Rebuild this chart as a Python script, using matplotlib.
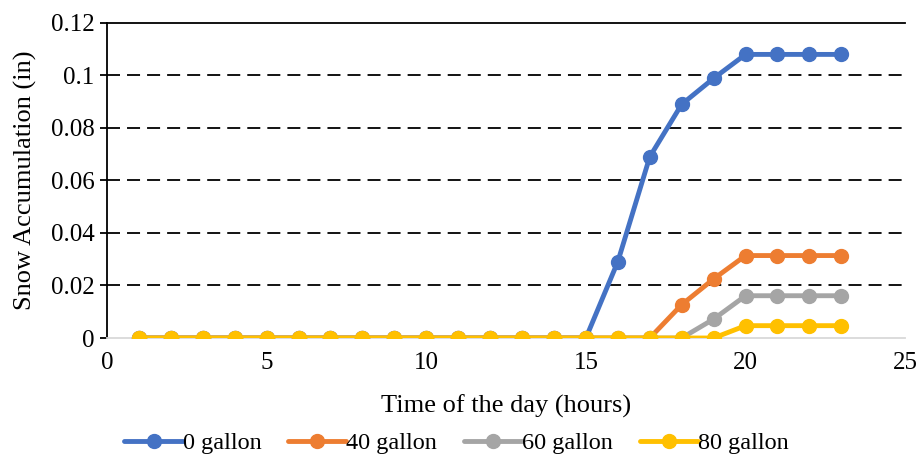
import matplotlib.pyplot as plt

plt.rcParams['font.family'] = ['Liberation Serif', 'DejaVu Serif']

# hourly snow accumulation (in) for each application rate
hours = list(range(1, 24))
snow_0 = [0] * 15 + [0.0291, 0.069, 0.089, 0.0989, 0.108, 0.108, 0.108, 0.108]
snow_40 = [0] * 17 + [0.0127, 0.0225, 0.0314, 0.0314, 0.0314, 0.0314]
snow_60 = [0] * 18 + [0.0072, 0.0161, 0.0161, 0.0161, 0.0161]
snow_80 = [0] * 19 + [0.0047, 0.0047, 0.0047, 0.0047]

labels = ['0 gallon', '40 gallon', '60 gallon', '80 gallon']
colors = ['#4472C4', '#ED7D31', '#A5A5A5', '#FFC000']

fig = plt.figure(figsize=(9.19, 4.58), dpi=100)
ax = fig.add_axes([0.1164, 0.262, 0.8686, 0.688])

for y, lab, c in zip([snow_0, snow_40, snow_60, snow_80], labels, colors):
    ax.plot(hours, y, color=c, lw=3.5, marker='o', markersize=10, label=lab,
            solid_capstyle='round', zorder=3)

ax.set_xlim(0, 25)
ax.set_ylim(0, 0.12)
ax.set_xticks([0, 5, 10, 15, 20, 25])
ax.set_yticks([0, 0.02, 0.04, 0.06, 0.08, 0.1, 0.12])
ax.set_yticklabels(['0', '0.02', '0.04', '0.06', '0.08', '0.1', '0.12'])

for g in [0.02, 0.04, 0.06, 0.08, 0.1]:
    ax.axhline(g, color='black', lw=1.3, dashes=(7.2, 3.9), zorder=1)

ax.spines['right'].set_visible(False)
ax.spines['top'].set_linewidth(1.3)
ax.spines['left'].set_linewidth(1.3)
ax.spines['bottom'].set_color('#D9D9D9')
ax.spines['bottom'].set_linewidth(1.3)

ax.tick_params(axis='x', length=0, pad=10, labelsize=18)
ax.tick_params(axis='y', direction='out', length=5, width=1.3, pad=4, labelsize=18)

ax.set_xlabel('Time of the day (hours)', fontsize=19, labelpad=15)
ax.set_ylabel('Snow Accumulation (in)', fontsize=19, labelpad=10)

fig.legend(*ax.get_legend_handles_labels(), loc='center', bbox_to_anchor=(0.497, 0.032),
           ncol=4, frameon=False, fontsize=17.5, handlelength=2.4, handletextpad=0.0,
           columnspacing=1.1, borderpad=0)

fig.savefig('out.png', dpi=100)
